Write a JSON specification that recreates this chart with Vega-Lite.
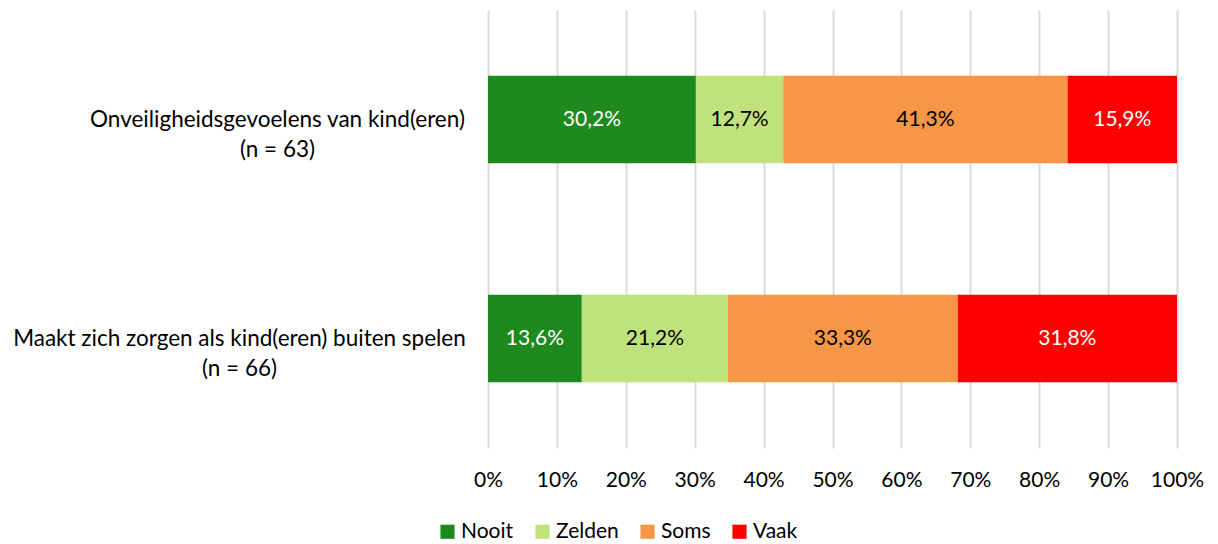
{
  "$schema": "https://vega.github.io/schema/vega-lite/v6.json",
  "width": 689,
  "height": 438,
  "autosize": {"type": "none"},
  "padding": {"left": 488, "top": 10, "right": 41, "bottom": 96},
  "config": {
    "locale": {"number": {"decimal": ",", "thousands": ".", "grouping": [3], "currency": ["€", ""]}},
    "view": {"stroke": null},
    "font": "Lato"
  },
  "data": {
    "values": [
      {"item": "Onveiligheidsgevoelens van kind(eren)|(n = 63)", "cat": "Nooit", "k": 1, "v": 0.302},
      {"item": "Onveiligheidsgevoelens van kind(eren)|(n = 63)", "cat": "Zelden", "k": 2, "v": 0.127},
      {"item": "Onveiligheidsgevoelens van kind(eren)|(n = 63)", "cat": "Soms", "k": 3, "v": 0.413},
      {"item": "Onveiligheidsgevoelens van kind(eren)|(n = 63)", "cat": "Vaak", "k": 4, "v": 0.159},
      {"item": "Maakt zich zorgen als kind(eren) buiten spelen|(n = 66)", "cat": "Nooit", "k": 1, "v": 0.136},
      {"item": "Maakt zich zorgen als kind(eren) buiten spelen|(n = 66)", "cat": "Zelden", "k": 2, "v": 0.212},
      {"item": "Maakt zich zorgen als kind(eren) buiten spelen|(n = 66)", "cat": "Soms", "k": 3, "v": 0.333},
      {"item": "Maakt zich zorgen als kind(eren) buiten spelen|(n = 66)", "cat": "Vaak", "k": 4, "v": 0.318}
    ]
  },
  "encoding": {
    "y": {
      "field": "item", "type": "nominal", "sort": null,
      "scale": {"paddingInner": 0.6, "paddingOuter": 0.3},
      "axis": {
        "title": null, "domain": false, "ticks": false, "tickSize": 0,
        "labelExpr": "split(datum.label, '|')",
        "labelAlign": "center",
        "labelPadding": {"condition": {"test": "indexof(datum.label, 'Onveilig') >= 0", "value": 211}, "value": 249},
        "labelFontSize": 22.5, "labelColor": "#000000", "labelLineHeight": 30, "labelLimit": 600
      }
    },
    "x": {
      "field": "v", "type": "quantitative", "stack": "normalize",
      "scale": {"domain": [0, 1]},
      "axis": {
        "title": null, "format": ".0%", "values": [0, 0.1, 0.2, 0.3, 0.4, 0.5, 0.6, 0.7, 0.8, 0.9, 1],
        "domain": false, "ticks": false, "tickSize": 0, "labelPadding": 21,
        "labelOverlap": false, "labelFlush": false,
        "labelFontSize": 21, "labelColor": "#000000",
        "grid": true, "gridColor": "#d9d9d9", "gridWidth": 2
      }
    },
    "order": {"field": "k", "type": "quantitative"}
  },
  "layer": [
    {
      "mark": {"type": "bar"},
      "encoding": {
        "color": {
          "field": "cat", "type": "nominal",
          "scale": {"domain": ["Nooit", "Zelden", "Soms", "Vaak"], "range": ["#1e8a1e", "#bfe27d", "#f79646", "#ff0000"]},
          "legend": {
            "title": null, "orient": "none", "direction": "horizontal",
            "legendX": -51, "legendY": 511,
            "symbolType": "square", "symbolSize": 200, "symbolStrokeWidth": 0,
            "labelFontSize": 21, "labelColor": "#000000", "columnPadding": 18, "labelOffset": 3
          }
        }
      }
    },
    {
      "mark": {"type": "text", "fontSize": 21},
      "encoding": {
        "x": {"field": "v", "type": "quantitative", "stack": "normalize", "bandPosition": 0.5},
        "text": {"field": "v", "type": "quantitative", "format": ".1%"},
        "color": {"condition": {"test": "datum.cat === 'Nooit' || datum.cat === 'Vaak'", "value": "#ffffff"}, "value": "#000000"}
      }
    }
  ]
}
